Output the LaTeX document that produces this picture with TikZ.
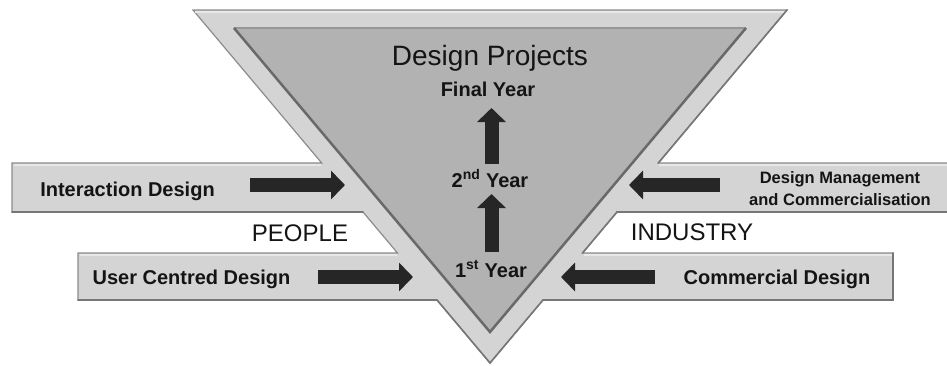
\documentclass[tikz,border=0pt]{standalone}
\usepackage{fontspec}
\setmainfont{Liberation Sans}
\usetikzlibrary{arrows.meta}
\definecolor{framefill}{RGB}{212,212,212}
\definecolor{frameedge}{RGB}{140,140,140}
\definecolor{framedark}{RGB}{118,118,118}
\definecolor{frameshadow}{RGB}{185,185,185}
\definecolor{framelight}{RGB}{232,232,232}
\definecolor{corefill}{RGB}{178,178,178}
\definecolor{coreedge}{RGB}{105,105,105}
\definecolor{coretop}{RGB}{150,150,150}
\definecolor{arrowdark}{RGB}{38,38,38}
\definecolor{inkcol}{RGB}{20,20,20}
\tikzset{
  blockarrow/.style={line width=14pt, draw=arrowdark, -{Triangle[width=28pt,length=14pt]}},
  boldlabel/.style={font=\fontsize{20}{22}\selectfont\bfseries, text=inkcol, inner sep=0pt, anchor=base},
  smalllabel/.style={font=\fontsize{16.5}{21}\selectfont\bfseries, text=inkcol, inner sep=0pt, anchor=base},
  sidelabel/.style={font=\fontsize{24}{26}\selectfont, text=inkcol, inner sep=0pt, anchor=base},
  titlelabel/.style={font=\fontsize{28}{30}\selectfont, text=inkcol, inner sep=0pt, anchor=base},
  shadeedge/.style={framedark, line width=1.6pt, line cap=round},
}
\begin{document}
\begin{tikzpicture}[x=1pt,y=-1pt]
\useasboundingbox (0,0) rectangle (947,365);

% outline of the frame: funnel triangle joined with the four bands
\coordinate (T1) at (193,10);
\coordinate (T2) at (787,10);
\coordinate (R1) at (658.3,163);
\coordinate (R2) at (952,163);
\coordinate (R3) at (952,212);
\coordinate (R4) at (617.0,212);
\coordinate (R5) at (582.5,253);
\coordinate (R6) at (893,253);
\coordinate (R7) at (893,300);
\coordinate (R8) at (543,300);
\coordinate (A)  at (490,363);
\coordinate (L8) at (437,300);
\coordinate (L7) at (78,300);
\coordinate (L6) at (78,253);
\coordinate (L5) at (397.5,253);
\coordinate (L4) at (363,212);
\coordinate (L3) at (12,212);
\coordinate (L2) at (12,163);
\coordinate (L1) at (321.7,163);

% soft shadow under the frame
\fill[frameshadow, opacity=0.8, shift={(1.5,2)}]
  (T1) -- (T2) -- (R1) -- (R2) -- (R3) -- (R4) -- (R5) -- (R6) -- (R7) -- (R8) --
  (A) -- (L8) -- (L7) -- (L6) -- (L5) -- (L4) -- (L3) -- (L2) -- (L1) -- cycle;
% the frame itself
\filldraw[fill=framefill, draw=frameedge, line width=1.2pt, line join=miter]
  (T1) -- (T2) -- (R1) -- (R2) -- (R3) -- (R4) -- (R5) -- (R6) -- (R7) -- (R8) --
  (A) -- (L8) -- (L7) -- (L6) -- (L5) -- (L4) -- (L3) -- (L2) -- (L1) -- cycle;
% highlights along the upper edges
\draw[framelight, line width=2pt] (194.5,12) -- (785.5,12);
\draw[framelight, line width=2pt] (L2) ++(1.5,2) -- (321,165);
\draw[framelight, line width=2pt] (R1) ++(0.5,2) -- (951,165);
\draw[framelight, line width=2pt] (L6) ++(1.5,2) -- (397,255);
\draw[framelight, line width=2pt] (R5) ++(1,2) -- (891.5,255);
% darker lower and right-hand edges
\draw[shadeedge] (T2) -- (R1);
\draw[shadeedge] (R4) -- (R5);
\draw[shadeedge] (R6) -- (R7) -- (R8) -- (A) -- (L8) -- (L7);
\draw[shadeedge] (L4) -- (L3);
\draw[shadeedge] (R3) -- (R4);

% recessed core triangle
\coordinate (C1) at (234,28);
\coordinate (C2) at (746,28);
\coordinate (C3) at (490,332);
\fill[corefill] (C1) -- (C2) -- (C3) -- cycle;
\draw[coretop, line width=2pt] (C1) -- (C2);
\draw[coreedge, line width=2.5pt, line join=miter] (C2) -- (C3) -- (C1);

% titles and year labels
\node[titlelabel] (title) at (490,65) {Design Projects};
\node[boldlabel] (final) at (488,96) {Final Year};
\node[boldlabel] (second) at (490,187) {2\textsuperscript{nd} Year};
\node[boldlabel] (first) at (491,277) {1\textsuperscript{st} Year};

% band labels
\node[boldlabel] (interaction) at (127.5,196) {Interaction Design};
\node[boldlabel] (ucd) at (191.5,284) {User Centred Design};
\node[boldlabel] (commercial) at (777,284) {Commercial Design};
\node[smalllabel] (dm1) at (840,183) {Design Management};
\node[smalllabel] (dm2) at (840,205) {and Commercialisation};
\node[sidelabel] (people) at (300,241) {PEOPLE};
\node[sidelabel] (industry) at (692,240) {INDUSTRY};

% block arrows
\coordinate (aIs) at (250,185);  \coordinate (aIe) at (345,185);
\coordinate (aUs) at (318,277);  \coordinate (aUe) at (413,277);
\coordinate (aDs) at (720,185);  \coordinate (aDe) at (629,185);
\coordinate (aCs) at (655,277);  \coordinate (aCe) at (561,277);
\coordinate (vUs) at (491.5,164); \coordinate (vUe) at (491.5,108);
\coordinate (vLs) at (491.5,252); \coordinate (vLe) at (491.5,194);
\draw[blockarrow] (aIs) -- (aIe);
\draw[blockarrow] (aUs) -- (aUe);
\draw[blockarrow] (aDs) -- (aDe);
\draw[blockarrow] (aCs) -- (aCe);
\draw[blockarrow] (vUs) -- (vUe);
\draw[blockarrow] (vLs) -- (vLe);
\end{tikzpicture}
\end{document}
